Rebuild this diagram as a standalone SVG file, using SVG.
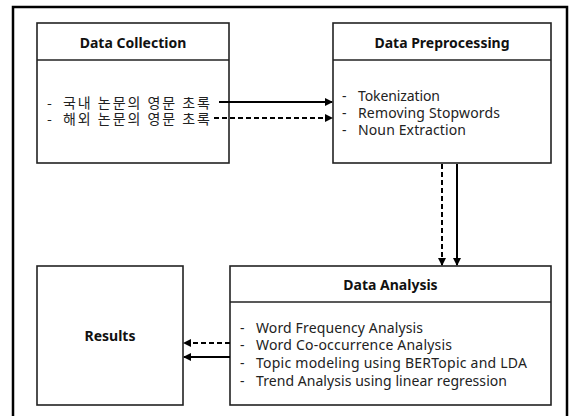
<svg xmlns="http://www.w3.org/2000/svg" width="573" height="416" viewBox="0 0 573 416">
<style>
.frame{fill:#fff;stroke:#000;stroke-width:2.5}
.box{fill:#fff;stroke:#222;stroke-width:1.6}
.div{stroke:#222;stroke-width:1.3}
.t{font-family:"Noto Sans","Noto Sans CJK KR",sans-serif;font-size:14px;fill:#222}
.k{font-family:"Noto Sans CJK KR",sans-serif;font-size:14px;fill:#222}
.b{font-family:"Noto Sans","Noto Sans CJK KR",sans-serif;font-size:14px;font-weight:bold;fill:#111;text-anchor:middle}
.c{stroke:#000;stroke-width:2;fill:none;marker-end:url(#ah)}
.d{stroke-dasharray:5 3}
</style>
<defs>
<marker id="ah" viewBox="0 0 8 8" refX="7" refY="4" markerWidth="4" markerHeight="4" orient="auto" markerUnits="strokeWidth">
<path d="M0,0 L8,4 L0,8 z" fill="#000"/>
</marker>
</defs>
<rect class="frame" x="13" y="7" width="554" height="415"/>
<g id="data-collection">
<rect class="box" x="37" y="23" width="192" height="140"/>
<line class="div" x1="37" y1="60" x2="229" y2="60"/>
<text class="b" x="133" y="48">Data Collection</text>
<text class="k" y="108"><tspan x="47">-</tspan><tspan x="63" textLength="147">국내 논문의 영문 초록</tspan></text>
<text class="k" y="124"><tspan x="47">-</tspan><tspan x="63" textLength="147">해외 논문의 영문 초록</tspan></text>
</g>
<g id="data-preprocessing">
<rect class="box" x="333" y="23" width="218" height="140"/>
<line class="div" x1="333" y1="60" x2="551" y2="60"/>
<text class="b" x="442" y="48">Data Preprocessing</text>
<text class="t" y="101"><tspan x="342">-</tspan><tspan x="358" textLength="82">Tokenization</tspan></text>
<text class="t" y="118"><tspan x="342">-</tspan><tspan x="358" textLength="142">Removing Stopwords</tspan></text>
<text class="t" y="135"><tspan x="342">-</tspan><tspan x="358" textLength="108">Noun Extraction</tspan></text>
</g>
<g id="data-analysis">
<rect class="box" x="230" y="266" width="321" height="139"/>
<line class="div" x1="230" y1="302" x2="551" y2="302"/>
<text class="b" x="390.5" y="290">Data Analysis</text>
<text class="t" y="333"><tspan x="240">-</tspan><tspan x="256" textLength="167">Word Frequency Analysis</tspan></text>
<text class="t" y="350"><tspan x="240">-</tspan><tspan x="256" textLength="196">Word Co-occurrence Analysis</tspan></text>
<text class="t" y="368"><tspan x="240">-</tspan><tspan x="256" textLength="271">Topic modeling using BERTopic and LDA</tspan></text>
<text class="t" y="386"><tspan x="240">-</tspan><tspan x="256" textLength="251">Trend Analysis using linear regression</tspan></text>
</g>
<g id="results">
<rect class="box" x="37" y="266" width="146" height="139"/>
<text class="b" x="110" y="341">Results</text>
</g>
<g id="connectors">
<line class="c" x1="219" y1="102" x2="332" y2="102"/>
<line class="c d" x1="214" y1="118" x2="332" y2="118"/>
<line class="c d" x1="442" y1="164" x2="442" y2="265"/>
<line class="c" x1="457" y1="164" x2="457" y2="265"/>
<line class="c d" x1="230" y1="343" x2="184" y2="343"/>
<line class="c" x1="230" y1="357" x2="184" y2="357"/>
</g>
</svg>
